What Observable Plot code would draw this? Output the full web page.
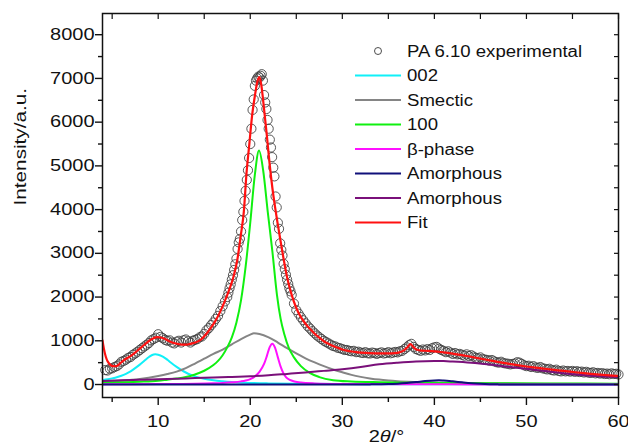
<!DOCTYPE html>
<html><head><meta charset="utf-8">
<script src="https://cdn.jsdelivr.net/npm/d3@7"></script>
<script src="https://cdn.jsdelivr.net/npm/@observablehq/plot@0.6"></script>
<style>
body{margin:0;background:#fff}
#chart{position:relative;width:628px;height:448px}
</style>
</head><body><div id="chart"></div>
<script>
// ---- data (2θ in degrees, intensity in a.u.) ----
const experimental = [
[4.25,330],[4.5,320],[4.75,360],[5,370],[5.25,400],[5.5,420],[5.75,460],[6,520],[6.25,540],[6.5,570],[6.75,610],[7,630],[7.25,680],[7.5,710],[7.75,750],[8,790],[8.25,830],[8.5,870],[8.75,910],[9,950],[9.25,1010],[9.5,1040],[9.75,1070],[10,1150],[10.25,1090],[10.5,1060],[10.75,1020],[11,1000],[11.25,1010],[11.5,960],[11.75,940],[12,980],[12.25,1000],[12.5,960],[12.75,1010],[13,1030],[13.25,990],[13.5,960],[13.75,1000],[14,1020],[14.25,1040],[14.5,1080],[14.75,1100],[15,1160],[15.25,1240],[15.5,1290],[15.75,1360],[16,1420],[16.25,1500],[16.5,1570],[16.75,1680],[17,1790],[17.25,1900],
[17.5,2000],[17.625,2100],[17.75,2200],[17.875,2290],[18,2400],[18.125,2500],[18.25,2620],[18.375,2750],[18.5,2880],[18.625,3100],[18.75,3250],[18.875,3330],[19,3500],[19.125,3760],[19.25,3950],[19.375,4200],[19.5,4430],[19.625,4680],[19.75,4900],[19.875,5180],[20,5500],[20.125,5850],[20.25,6280],[20.375,6520],[20.5,6830],[20.625,6950],[20.75,7000],[20.875,7040],[21,7020],[21.125,7060],[21.25,7097],[21.375,6950],[21.5,6620],[21.625,6450],[21.75,6300],[21.875,6050],[22,5850],[22.125,5600],[22.25,5420],[22.375,5200],[22.5,4960],[22.625,4760],[22.75,4300],[22.875,4050],[23,3700],[23.125,3560],[23.25,3230],[23.375,3080],[23.5,2950],[23.625,2760],[23.75,2640],[23.875,2510],[24,2400],[24.125,2300],[24.25,2200],[24.375,2130],[24.5,2050],
[24.75,1850],[25,1700],[25.25,1620],[25.5,1540],[25.75,1470],[26,1400],[26.25,1330],[26.5,1280],[26.75,1220],[27,1170],[27.25,1120],[27.5,1080],[27.75,1040],[28,1000],[28.25,970],[28.5,940],[28.75,910],[29,880],[29.25,870],[29.5,840],[29.75,830],[30,810],[30.25,790],[30.5,790],[30.75,770],[31,760],[31.25,770],[31.5,740],[31.75,750],[32,730],[32.25,720],[32.5,740],[32.75,715],[33,710],[33.25,730],[33.5,720],[33.75,700],[34,720],[34.25,735],[34.5,710],[34.75,720],[35,740],[35.25,715],[35.5,730],[35.75,745],[36,735],[36.25,760],[36.5,770],[36.75,810],[37,850],[37.25,900],[37.5,930],[37.75,860],[38,810],[38.25,790],[38.5,770],[38.75,800],[39,780],[39.25,810],[39.5,790],[39.75,830],[40,850],[40.25,860],[40.5,820],[40.75,790],[41,770],[41.25,740],[41.5,760],[41.75,730],[42,700],[42.25,720],[42.5,690],[42.75,700],[43,680],[43.25,660],[43.5,690],[43.75,650],[44,670],[44.25,640],[44.5,610],[44.75,600],[45,620],[45.25,580],[45.5,570],[45.75,560],[46,545],[46.25,560],[46.5,530],[46.75,510],[47,500],[47.25,520],[47.5,490],[47.75,480],[48,475],[48.25,460],[48.5,470],[48.75,480],[49,510],[49.25,500],[49.5,470],[49.75,440],[50,420],[50.25,430],[50.5,400],[50.75,420],[51,390],[51.25,380],[51.5,400],[51.75,370],[52,360],[52.25,345],[52.5,360],[52.75,330],[53,320],[53.25,340],[53.5,310],[53.75,300],[54,320],[54.25,300],[54.5,310],[54.75,295],[55,310],[55.25,290],[55.5,305],[55.75,285],[56,295],[56.25,275],[56.5,290],[56.75,270],[57,265],[57.25,280],[57.5,255],[57.75,265],[58,250],[58.25,260],[58.5,240],[58.75,250],[59,235],[59.25,255],[59.5,240],[59.75,245],[60,230]
];
const peak002 = [[3.95,100],[4.5,118],[5,140],[5.5,165],[6,200],[6.5,245],[7,300],[7.5,375],[8,455],[8.5,545],[9,630],[9.5,685],[9.7,690],[10,683],[10.5,640],[11,565],[11.5,480],[12,405],[12.5,335],[13,275],[13.5,225],[14,185],[15,130],[16,96],[17,74],[18,57],[20,37],[22,26],[25,16],[30,9],[35,6],[40,4.5],[50,2.5],[60,1.5]];
const smectic = [[3.95,60],[6,85],[8,125],[10,195],[11,240],[12,295],[13,375],[14,480],[15,590],[16,700],[17,800],[18,920],[19,1040],[20,1140],[20.4,1170],[21,1155],[22,1080],[23,960],[24,830],[25,710],[26,600],[27,505],[28,420],[29,345],[30,280],[31,220],[32,175],[33,140],[34,112],[35,92],[36,77],[38,58],[40,45],[45,28],[50,18],[60,10]];
const peak100 = [[3.95,40],[6,50],[8,63],[10,85],[11,110],[12,135],[13,170],[14,230],[15,315],[16,445],[16.5,540],[17,670],[17.5,850],[18,1080],[18.5,1420],[19,1930],[19.5,2700],[20,3700],[20.5,4800],[20.95,5350],[21.4,4900],[21.9,3950],[22.4,3050],[22.9,2050],[23.3,1500],[23.7,1150],[24.2,830],[24.75,620],[25.5,420],[26.5,260],[27.5,170],[29,100],[31,70],[34,52],[38,40],[45,30],[52,24],[60,18]];
const betaPhase = [[3.95,5],[10,10],[14,18],[16,28],[17,36],[18,50],[19,72],[19.5,92],[20,125],[20.5,185],[21,290],[21.5,470],[21.8,650],[22.1,850],[22.4,935],[22.7,840],[23,620],[23.3,410],[23.6,260],[23.9,165],[24.3,105],[24.8,70],[25.5,45],[27,25],[30,12],[35,6],[45,3],[60,1]];
const amorphous1 = [[3.95,0],[30,0],[33,3],[35,10],[36,20],[37,35],[38,55],[39,78],[40,93],[40.5,95],[41,90],[42,72],[43,50],[44,30],[45,16],[46,7],[47,3],[49,0],[60,0]];
const amorphous2 = [[3.95,80],[6,95],[8,108],[10,120],[12,133],[14,147],[16,160],[18,174],[20,190],[22,212],[24,243],[26,275],[28,312],[30,350],[32,400],[34,462],[36,500],[38,527],[40,535],[41,535],[42,525],[44,498],[46,457],[48,407],[50,358],[52,308],[54,258],[56,218],[58,190],[60,172]];
const fit = [[3.95,1010],[4.1,820],[4.3,640],[4.5,530],[4.8,450],[5.1,420],[5.4,418],[5.7,450],[6,510],[6.5,590],[7,650],[7.5,730],[8,820],[8.5,910],[9,995],[9.5,1060],[9.9,1085],[10.3,1075],[10.7,1045],[11.2,990],[11.7,950],[12.2,925],[12.7,910],[13.2,915],[13.7,940],[14.2,975],[14.7,1040],[15.2,1150],[15.7,1290],[16.2,1450],[16.7,1650],[17.2,1890],[17.7,2160],[18.2,2480],[18.6,2860],[19,3450],[19.3,3950],[19.6,4850],[19.9,5500],[20.2,6150],[20.5,6600],[20.8,6950],[21,7030],[21.2,6850],[21.5,6300],[21.8,5700],[22.1,5050],[22.4,4500],[22.7,4050],[23,3650],[23.3,3270],[23.6,2900],[24,2450],[24.5,2050],[25,1750],[25.5,1540],[26,1390],[26.5,1270],[27,1160],[27.5,1070],[28,990],[28.5,930],[29,880],[29.5,840],[30,800],[30.5,775],[31,755],[31.5,740],[32,730],[33,718],[34,712],[35,712],[35.7,718],[36.2,735],[36.7,780],[37.1,860],[37.4,925],[37.7,860],[38.1,795],[38.6,775],[39.3,770],[40,760],[41,735],[42,705],[43,672],[44,632],[45,592],[46,552],[47,512],[48,476],[49,442],[50,412],[51,385],[52,360],[53,335],[54,310],[55,287],[56,265],[57,245],[58,227],[59,210],[60,195]];

const xTicksMajor = [10,20,30,40,50,60];
const xTicksMinor = [5,15,25,35,45,55];
const yTicksMajor = [0,1000,2000,3000,4000,5000,6000,7000,8000];
const yTicksMinor = [500,1500,2500,3500,4500,5500,6500,7500];

const legendLabels = ["PA 6.10 experimental","002","Smectic","100","β-phase","Amorphous","Amorphous","Fit"];
const seriesColors = ["#3a3a3a","#10f0f8","#858585","#10f010","#ff10ff","#10107a","#7a107a","#ff1010"];
const componentData = [peak002, smectic, peak100, betaPhase, amorphous1, amorphous2];

const X = d => d[0], Y = d => d[1];
const FONT = "'Liberation Sans', Arial, Helvetica, sans-serif";
const plain = d => String(d);
const blank = () => "";

const chart = Plot.plot({
  width: 628, height: 448,
  marginTop: 13, marginBottom: 51, marginLeft: 102, marginRight: 10,
  x: {domain: [3.95, 60]},
  y: {domain: [-297, 8485]},
  style: {fontFamily: FONT, fontSize: "16px", color: "#111", background: "#fff", overflow: "visible"},
  marks: [
    Plot.dot(experimental, {x: X, y: Y, r: 4.6, stroke: seriesColors[0], strokeWidth: 0.85, fill: "none"}),
    ...componentData.map((d, i) => Plot.line(d, {x: X, y: Y, stroke: seriesColors[i + 1], strokeWidth: 2, curve: "monotone-x", clip: true})),
    Plot.line(fit, {x: X, y: Y, stroke: seriesColors[7], strokeWidth: 2.2, curve: "monotone-x", clip: true}),
    Plot.frame({stroke: "#111", strokeWidth: 1.5}),
    Plot.axisX(xTicksMajor, {tickSize: 8, tickPadding: 10, strokeWidth: 1.4, tickFormat: plain, label: null, fontSize: 16}),
    Plot.axisX(xTicksMinor, {tickSize: 5, strokeWidth: 1.4, tickFormat: blank, label: null}),
    Plot.axisX([...xTicksMajor, ...xTicksMinor], {anchor: "top", tickSize: 5, dy: 5, strokeWidth: 1.2, tickFormat: blank, label: null}),
    Plot.axisY(yTicksMajor, {tickSize: 7, tickPadding: 1, strokeWidth: 1.4, tickFormat: plain, label: null, fontSize: 16}),
    Plot.axisY(yTicksMinor, {tickSize: 4, strokeWidth: 1.4, tickFormat: blank, label: null}),
    Plot.axisY([...yTicksMajor, ...yTicksMinor], {anchor: "right", tickSize: 5, dx: -5, strokeWidth: 1.2, tickFormat: blank, label: null}),
    Plot.text(["Intensity/a.u."], {frameAnchor: "left", dx: -82, rotate: -90, fontSize: 17, fill: "#111"}),
    Plot.text(["2θ/°"], {frameAnchor: "bottom", dx: 26, dy: 44, fontSize: 16, fill: "#111"})
  ]
});

const host = document.getElementById("chart");
host.append(chart);
const svg = d3.select(chart);

// italic theta in x-axis title
svg.selectAll("text").filter(function(){ return this.textContent === "2θ/°"; }).each(function(){
  const t = d3.select(this); t.text("");
  t.append("tspan").text("2");
  t.append("tspan").attr("font-style", "italic").text("θ");
  t.append("tspan").text("/°");
  this.setAttribute("textLength", this.getComputedTextLength() * 1.25);
  this.setAttribute("lengthAdjust", "spacingAndGlyphs");
});
svg.selectAll("text").filter(function(){ return this.textContent === "Intensity/a.u."; }).each(function(){
  this.setAttribute("textLength", this.getComputedTextLength() * 1.22);
  this.setAttribute("lengthAdjust", "spacingAndGlyphs");
});
// widen tick labels to the reference's broad lettering
svg.selectAll('g[aria-label="x-axis tick label"] text, g[aria-label="y-axis tick label"] text').each(function(){
  const L = this.getComputedTextLength();
  if (L > 0) { this.setAttribute("textLength", L * 1.25); this.setAttribute("lengthAdjust", "spacingAndGlyphs"); }
});

// in-plot legend
const lg = svg.append("g").attr("font-family", FONT).attr("font-size", 16).attr("fill", "#111").attr("text-anchor", "start");
legendLabels.forEach((label, i) => {
  const cy = 51 + i * 24.5;
  if (i === 0) {
    lg.append("circle").attr("cx", 378).attr("cy", cy).attr("r", 3.5).attr("fill", "none").attr("stroke", seriesColors[0]).attr("stroke-width", 0.9);
  } else {
    lg.append("line").attr("x1", 355).attr("x2", 401).attr("y1", cy).attr("y2", cy).attr("stroke", seriesColors[i]).attr("stroke-width", 2);
  }
  const t = lg.append("text").attr("x", 407).attr("y", cy).attr("dy", "0.36em").attr("text-anchor", "start").text(label);
  const n = t.node(); n.setAttribute("textLength", n.getComputedTextLength() * 1.16); n.setAttribute("lengthAdjust", "spacingAndGlyphs");
});
</script>
</body></html>
